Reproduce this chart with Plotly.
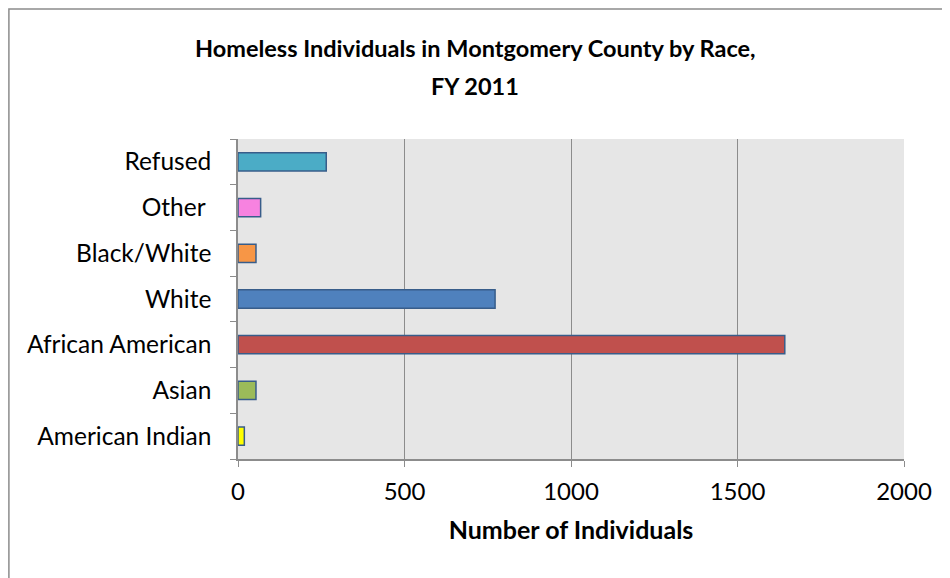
import plotly.graph_objects as go

races = [
    "American Indian",
    "Asian",
    "African American",
    "White",
    "Black/White",
    "Other ",
    "Refused",
]
individuals = [19, 54, 1642, 772, 54, 68, 265]
bar_colors = ["#FFFF00", "#9BBB59", "#C0504D", "#4F81BD", "#F79646", "#F782E0", "#4BACC6"]

x_ticks = [0, 500, 1000, 1500, 2000]

title_lines = ["Homeless Individuals in Montgomery County by Race,", "FY 2011"]

FONT = "Lato"

# the page body keeps its 8px margin, so the figure is sized to fit inside it
fig = go.Figure()

fig.add_trace(
    go.Bar(
        x=individuals,
        y=races,
        orientation="h",
        marker={"color": bar_colors, "line": {"color": "#385D8A", "width": 1.5}},
        width=0.4,
        showlegend=False,
        hovertemplate="%{y}: %{x}<extra></extra>",
    )
)

# two title lines as annotations, the chart's line spacing is wider than plotly's;
# centred on the whole chart, not on the plot area
for line, ypos in zip(title_lines, [1.285, 1.167]):
    fig.add_annotation(
        text=f"<b>{line}</b>",
        xref="paper",
        yref="paper",
        x=0.356,
        y=ypos,
        xanchor="center",
        yanchor="middle",
        showarrow=False,
        font={"family": FONT, "size": 23.5, "color": "black"},
    )

fig.update_layout(
    width=942,
    height=570,
    margin={"l": 230, "r": 46, "t": 131, "b": 119},
    paper_bgcolor="white",
    plot_bgcolor="#E6E6E6",
    font={"family": FONT, "size": 24, "color": "black"},
    xaxis={
        "range": [0, 2000],
        "tickvals": x_ticks,
        "showgrid": True,
        "gridcolor": "#8C8C8C",
        "gridwidth": 1.2,
        "zeroline": False,
        "showline": True,
        "linecolor": "#8C8C8C",
        "linewidth": 1.5,
        "ticks": "outside",
        "ticklen": 6,
        "tickcolor": "#8C8C8C",
        "tickfont": {"size": 24},
        "ticklabelstandoff": 4,
        "title": {
            "text": "<b>Number of Individuals</b>",
            "font": {"size": 25},
            "standoff": 18,
        },
    },
    yaxis={
        "categoryorder": "array",
        "categoryarray": races,
        "showgrid": False,
        "showline": True,
        "linecolor": "#8C8C8C",
        "linewidth": 1.5,
        "ticks": "outside",
        "tickson": "boundaries",
        "ticklen": 6,
        "tickcolor": "#8C8C8C",
        "tickfont": {"size": 24.5},
        "ticklabelstandoff": 20,
    },
    shapes=[
        {
            "type": "rect",
            "xref": "paper",
            "yref": "paper",
            "x0": -0.344,
            "x1": 1.3,
            "y0": -0.6,
            "y1": 1.406,
            "line": {"color": "#8C8C8C", "width": 1.5},
            "fillcolor": "rgba(0,0,0,0)",
            "layer": "below",
        }
    ],
)

fig.write_html("out.html")
